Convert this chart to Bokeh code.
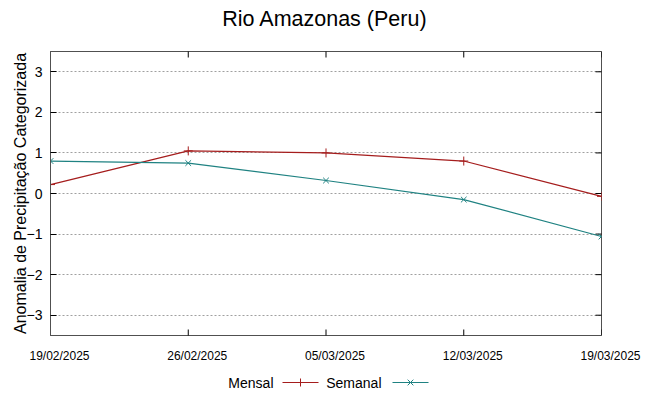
import numpy as np
from bokeh.plotting import figure
from bokeh.models import FixedTicker, Range1d
from bokeh.layouts import column
from bokeh.embed import file_html
from bokeh.resources import INLINE
from bokeh.core.properties import value

# ---- data ----
title = "Rio Amazonas (Peru)"
dates = ["19/02/2025", "26/02/2025", "05/03/2025", "12/03/2025", "19/03/2025"]
days = [0, 7, 14, 21, 28]
mensal = [0.22, 1.05, 1.00, 0.80, -0.07]
semanal = [0.80, 0.75, 0.32, -0.15, -1.06]
yticks = [-3, -2, -1, 0, 1, 2, 3]
series_names = ["Mensal", "Semanal"]
colors = ["#a51d1d", "#1f8282"]

FONT = "Liberation Sans"
X0, X1 = 0, 28
Y0, Y1 = -3.5, 3.5
W = 649
LEFT, RIGHT = 50, 48          # frame borders in px
FRAME_W = W - LEFT - RIGHT


def strip(h, xr):
    f = figure(width=W, height=h, output_backend="svg", toolbar_location=None,
               x_range=xr, y_range=Range1d(0, h), min_border=0,
               outline_line_color=None, frame_align=False)
    f.axis.visible = False
    f.grid.visible = False
    return f


# title strip
tt = strip(50, Range1d(0, W))
tt.text([W / 2], [50 - 18], text=[title], text_align="center", text_baseline="middle",
        text_font=value(FONT), text_font_size="21.5px", text_color="#000000")

p = figure(width=W, height=286, output_backend="svg", toolbar_location=None,
           x_range=Range1d(X0, X1), y_range=Range1d(Y0, Y1), frame_align=False,
           min_border_left=LEFT, min_border_right=RIGHT, min_border_top=1, min_border_bottom=1)

p.outline_line_color = "#505050"
p.outline_line_width = 1
p.background_fill_color = "white"
p.border_fill_color = "white"

p.xaxis.visible = False
ya = p.yaxis[0]
ya.ticker = FixedTicker(ticks=yticks)
ya.axis_label = "Anomalia de Precipitação Categorizada"
ya.axis_line_color = "#505050"
ya.major_tick_in = 6
ya.major_tick_out = 0
ya.minor_tick_line_color = None
ya.major_tick_line_color = "#000000"
ya.major_label_text_font = FONT
ya.major_label_text_color = "#000000"
ya.major_label_text_font_size = "14px"
ya.major_label_standoff = 8
ya.axis_label_text_font = FONT
ya.axis_label_text_font_style = "normal"
ya.axis_label_text_color = "#000000"
ya.axis_label_text_font_size = "16px"
ya.axis_label_standoff = -5

p.xgrid.grid_line_color = None
p.ygrid.ticker = FixedTicker(ticks=yticks)
p.ygrid.grid_line_color = "#a0a0a0"
p.ygrid.grid_line_dash = "2 2"
p.ygrid.grid_line_width = 1

# inward mirror ticks (half of each dash is clipped by the frame)
p.scatter([X1] * len(yticks), yticks, marker="dash", size=12, line_color="#000000", line_width=1)
p.scatter(days, [Y0] * len(days), marker="dash", angle=np.pi / 2, size=12, line_color="#000000", line_width=1)
p.scatter(days, [Y1] * len(days), marker="dash", angle=np.pi / 2, size=12, line_color="#000000", line_width=1)

p.line(days, mensal, line_color=colors[0], line_width=1.2)
p.scatter(days, mensal, marker="cross", size=9, line_color=colors[0], line_width=1)
p.line(days, semanal, line_color=colors[1], line_width=1.2)
p.scatter(days, semanal, marker="x", size=8, line_color=colors[1], line_width=1)

# x tick label strip: same day scale, range widened to the full width
px = (X1 - X0) / FRAME_W
tk = strip(34, Range1d(X0 - LEFT * px, X1 + RIGHT * px))
tk.text(days, [34 - 19] * len(days), text=dates, x_offset=9, text_align="center",
        text_baseline="middle", text_font=value(FONT), text_font_size="12px",
        text_color="#000000")

# legend strip (gnuplot-style: text then sample)
lg = strip(24, Range1d(0, W))
text_right = [273, 381]
line_start = [282, 392]
markers = ["cross", "x"]
for name, col, tx, lx, mk in zip(series_names, colors, text_right, line_start, markers):
    lg.text([tx], [12], text=[name], text_align="right", text_baseline="middle",
            text_font=value(FONT), text_font_size="14px", text_color="#000000")
    lg.line([lx, lx + 36], [12, 12], line_color=col, line_width=1.2)
    lg.scatter([lx + 18], [12], marker=mk, size=8, line_color=col)

layout = column(tt, p, tk, lg, spacing=0)
open("out.html", "w").write(file_html(layout, INLINE))
